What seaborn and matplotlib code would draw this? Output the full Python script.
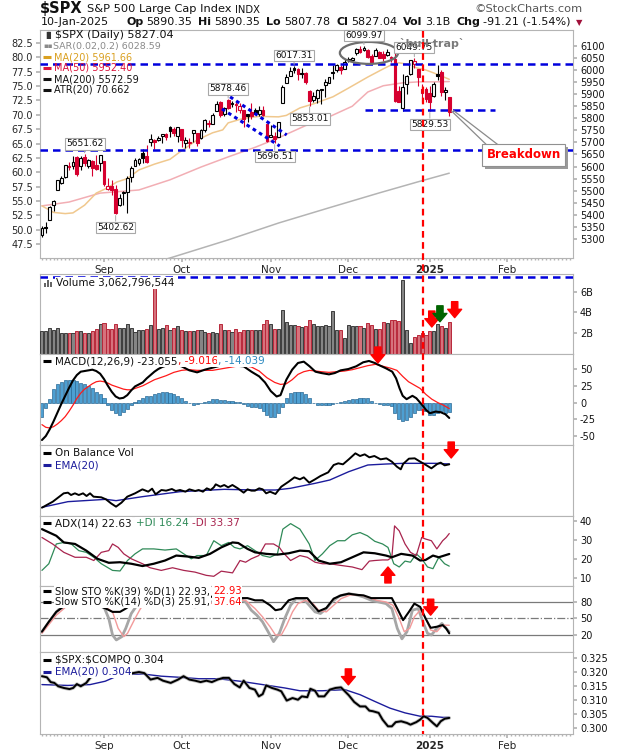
import numpy as np
import pandas as pd
import matplotlib
matplotlib.use('Agg')
import matplotlib.pyplot as plt
import seaborn as sns
from matplotlib.patches import Ellipse, Rectangle
from matplotlib.lines import Line2D
from matplotlib.transforms import IdentityTransform

sns.set_theme(style='white')
plt.rcParams['font.family'] = ['DejaVu Sans']

# ---------------- data ----------------
prev_close_start = 5319.0
opens = [5314.7, 5351.5, 5376.9, 5442.4, 5501.0, 5530.5, 5557.2, 5602.9, 5603.1, 5637.8, 5602.0, 5639.7, 5602.9, 5624.5, 5607.3, 5612.7,
         5623.9, 5506.7, 5520.1, 5507.3, 5442.1, 5490.5, 5496.4, 5557.5, 5603.3, 5615.2, 5655.5, 5641.7, 5702.6, 5709.0, 5711.9, 5727.0, 5733.6, 5762.2, 5755.4, 5726.5,
         5757.7, 5698.2, 5698.2, 5737.8, 5737.8, 5719.1, 5751.8, 5778.4, 5775.1, 5829.8, 5866.7, 5816.6, 5875.6, 5859.4, 5857.8, 5832.7, 5834.5, 5817.8, 5826.8, 5833.9, 5819.7, 5832.7, 5775.3,
         5723.2, 5725.2, 5722.4, 5864.0, 5947.2, 5976.8, 6008.9, 6003.6, 5985.8, 5989.6, 5912.8, 5874.2, 5882.5, 5917.1, 5937.3, 5944.4, 5992.3, 6000.0, 6014.1, 6004.0,
         6040.1, 6043.0, 6069.4, 6089.3, 6081.4, 6083.0, 6057.6, 6060.2, 6074.3, 6068.2, 6063.8, 6052.6, 6047.7, 5912.7, 5842.0, 5940.3, 5984.6, 6025.0, 6006.2, 5920.7, 5919.7,
         5903.3, 5891.1, 5982.8, 5993.3, 5910.7, 5890.35]
highs = [5351.9, 5371.2, 5436.5, 5463.2, 5546.2, 5561.9, 5608.3, 5620.5, 5643.2, 5643.2, 5641.8, 5651.62, 5631.2, 5627.0, 5646.9, 5648.4,
         5623.9, 5552.7, 5546.3, 5522.5, 5484.2, 5497.9, 5560.4, 5600.7, 5636.3, 5636.1, 5670.8, 5689.8, 5733.6, 5715.1, 5725.4, 5735.3, 5741.0, 5767.4, 5763.8, 5765.1,
         5757.7, 5722.4, 5718.8, 5753.3, 5739.3, 5757.6, 5796.8, 5795.0, 5822.1, 5871.4, 5870.4, 5846.5, 5878.46, 5872.2, 5866.9, 5863.0, 5834.8, 5817.8, 5862.8, 5842.9, 5850.9, 5850.9, 5775.3,
         5772.5, 5741.4, 5783.4, 5936.1, 5983.8, 6012.5, 6017.31, 6009.9, 6008.2, 5993.9, 5915.3, 5908.1, 5920.7, 5920.7, 5963.4, 5972.9, 6020.8, 6025.4, 6020.2, 6044.2,
         6053.6, 6052.1, 6089.8, 6099.7, 6099.97, 6088.5, 6065.4, 6092.6, 6079.7, 6078.6, 6085.2, 6057.7, 6070.7, 5935.5, 5982.1, 5978.3, 6040.1, 6049.75, 6006.2, 5940.8, 5929.7,
         5935.1, 5949.3, 6021.0, 6000.7, 5927.9, 5890.35]
lows = [5306.4, 5324.4, 5376.9, 5415.0, 5501.0, 5525.9, 5550.7, 5585.5, 5591.0, 5560.9, 5585.2, 5602.3, 5593.5, 5560.9, 5585.2, 5580.8,
        5521.2, 5503.4, 5480.1, 5402.62, 5434.5, 5441.7, 5407.0, 5535.5, 5601.6, 5604.5, 5614.1, 5615.1, 5686.4, 5674.5, 5704.6, 5698.0, 5712.1, 5721.0, 5727.3, 5703.5,
        5681.3, 5676.9, 5677.4, 5702.8, 5686.9, 5714.6, 5745.0, 5764.8, 5775.1, 5829.8, 5804.5, 5808.3, 5840.3, 5846.1, 5824.8, 5821.2, 5762.4, 5784.9, 5799.0, 5823.1, 5810.4, 5811.3, 5703.4,
        5723.2, 5696.51, 5722.1, 5864.0, 5947.2, 5976.8, 5986.7, 5960.1, 5965.9, 5942.3, 5853.01, 5865.9, 5862.0, 5860.8, 5888.8, 5944.4, 5963.9, 5992.3, 5984.9, 6004.0,
        6035.3, 6033.4, 6061.1, 6070.4, 6080.0, 6048.6, 6029.9, 6060.2, 6051.3, 6035.8, 6059.1, 6035.2, 5867.8, 5866.1, 5832.3, 5902.6, 5981.4, 6007.4, 5932.95, 5869.2, 5868.9,
        5829.53, 5888.7, 5960.0, 5890.7, 5874.8, 5807.78]
closes = [5344.2, 5344.4, 5434.4, 5455.2, 5543.2, 5554.3, 5608.3, 5597.1, 5620.9, 5570.6, 5634.6, 5616.8, 5625.8, 5592.2, 5591.9, 5648.4,
          5528.9, 5520.1, 5503.4, 5408.4, 5471.1, 5495.5, 5554.1, 5595.8, 5626.0, 5633.1, 5634.6, 5618.3, 5713.6, 5702.6, 5718.6, 5732.9, 5722.3, 5745.4, 5738.2, 5762.5,
          5708.8, 5709.5, 5699.9, 5751.1, 5695.9, 5751.1, 5792.0, 5780.1, 5815.0, 5859.9, 5815.3, 5842.5, 5841.5, 5864.7, 5854.0, 5851.2, 5797.4, 5809.9, 5808.1, 5823.5, 5832.9, 5813.7, 5705.5,
          5728.8, 5712.7, 5782.8, 5929.0, 5973.1, 5995.5, 6001.4, 5984.0, 5985.4, 5949.2, 5870.6, 5893.6, 5917.0, 5917.1, 5948.7, 5969.3, 5987.4, 6021.6, 5998.7, 6032.4,
          6047.2, 6049.9, 6086.5, 6075.1, 6090.3, 6052.9, 6034.9, 6084.2, 6051.3, 6051.1, 6074.1, 6050.6, 5872.2, 5867.1, 5930.9, 5974.1, 6040.0, 6037.6, 5970.8, 5906.9, 5881.6,
          5868.6, 5942.5, 5975.4, 5909.0, 5918.3, 5827.04]
volume_b = [2.2, 2.25, 2.55, 2.3, 2.55, 2.05, 2.0, 2.05, 1.98, 2.2, 2.2, 2.0, 2.0, 2.2, 2.4, 2.85,
            2.95, 2.45, 2.45, 2.85, 2.5, 2.5, 2.85, 2.5, 2.15, 2.35, 2.35, 2.45, 2.75, 6.4, 2.45, 2.55, 2.75, 2.35, 2.55, 2.65,
            2.3, 2.25, 2.25, 2.2, 2.3, 2.3, 2.15, 2.05, 2.15, 1.98, 2.85, 2.3, 2.35, 2.15, 2.4, 2.15, 2.3, 2.35, 2.3, 2.3, 2.3, 2.85, 3.3,
            2.85, 2.4, 2.4, 4.2, 3.1, 2.75, 2.75, 2.7, 2.6, 2.65, 3.3, 2.85, 2.7, 2.7, 2.8, 2.7, 4.1, 2.35, 2.3, 1.5,
            2.75, 2.7, 2.7, 2.7, 2.55, 2.95, 2.8, 2.4, 2.4, 3.05, 3.0, 3.3, 3.25, 3.2, 7.1, 2.35, 1.1, 1.6, 1.8, 2.0, 1.8,
            2.25, 2.2, 2.85, 2.65, 2.5, 3.06]

ma20 = [(0, 5437), (3, 5410), (6, 5405), (8, 5408), (11, 5440), (14, 5490), (16.8, 5511), (19.3, 5536), (22, 5550), (25, 5586),
        (29, 5610), (33, 5630), (35.6, 5661), (40, 5710), (44, 5740), (46.6, 5752), (48, 5781), (52, 5800), (56, 5808), (61, 5806),
        (63, 5812), (66.5, 5843), (70, 5860), (75, 5889), (79, 5925), (84, 5971), (88, 6005), (90, 6021), (92, 6030), (94, 6025),
        (96.6, 6009), (99, 6000), (101, 5988), (103, 5975), (105, 5961.66)]
ma50 = [(0, 5437), (7, 5453), (15, 5490), (25, 5503), (33, 5545), (41, 5598), (48, 5640), (55, 5680), (61, 5719), (68, 5770),
        (74, 5806), (80, 5850), (84, 5909), (88, 5935), (93, 5947), (97, 5951), (101, 5951), (105, 5952.4)]
ma200 = [(25, 5185), (33, 5221), (48, 5296), (61, 5366), (74, 5429), (87, 5491), (97, 5537), (105, 5572.59)]

macd_line = [(0, -56), (1, -50), (2, -40), (3, -28), (4, -15), (5, -2), (6, 10), (7, 22), (8, 33), (9, 41), (10, 46), (11, 47), (12, 48),
             (13, 49), (14, 47), (15, 43), (16, 35), (17, 25), (18, 16), (19, 9), (20, 6), (21, 7), (22, 11), (23, 18), (24, 24), (25, 27),
             (26, 30), (27, 36), (28, 41), (29, 46), (30, 50), (31, 53), (32, 55), (34, 57), (36, 54), (38, 48), (40, 45), (42, 49), (44, 52),
             (46, 55), (48, 55), (50, 55), (52, 54), (54, 46), (56, 39), (57.5, 30), (59, 17), (60.5, 9), (61.5, 11), (63, 34), (64.5, 49),
             (66, 59), (67.5, 61), (69, 54), (70.5, 46), (72, 44), (74, 42), (75.5, 44), (77, 48), (79, 50), (81, 54), (82.8, 60), (84.3, 62),
             (85.8, 59), (87.2, 55), (88.7, 51), (90.3, 46), (91.3, 36), (92.2, 21), (93, 10), (94, 5), (95.5, 10), (96.5, 6.5), (98, -3.5),
             (99, -11), (100, -16), (101.5, -13.5), (102.8, -14.5), (104, -17.5), (105, -23.055)]
macd_signal = [(0, -33), (1, -37), (2, -38), (3, -36), (4, -32), (5, -27), (6, -21), (7, -13), (8, -4), (9, 6), (10, 14), (11, 20), (12, 24),
               (13, 28), (14, 31), (15, 32), (16, 31), (17, 29), (18, 26), (19, 24), (20, 22), (21, 20), (22, 19), (23, 19), (24, 21), (25, 23),
               (26, 25), (27, 28), (28, 31), (29, 34), (30, 36), (31, 38), (32, 40), (34, 45), (36, 48), (38, 49), (40, 48), (42, 48), (44, 48),
               (46, 50), (48, 52), (50, 54), (52, 55), (54, 53), (56, 47), (58, 37), (60, 30), (61.5, 27), (63, 28), (64.5, 34), (66, 42),
               (67.5, 46), (69, 48), (70.5, 47), (72, 46), (74, 45), (76, 46), (78, 47), (80, 49), (82, 52), (84, 55), (86, 57), (88, 54),
               (90, 51), (91.5, 48), (93, 39), (94.5, 31), (96, 26), (97.5, 21), (99, 12), (100.5, 5), (102, 0), (103.5, -4), (105, -9.016)]
macd_hist = [-21, -8, 5, 20, 28, 31, 33, 34, 34, 32, 29, 27, 24, 21, 15, 12, 6, -3, -11, -16, -18, -14, -9, -4, 1, 4, 6, 9, 10, 12,
             14, 15, 15, 14, 12, 9, 6, 2, -1, -3, -2, 0, 1, 3, 5, 5, 4, 4, 3, 2, 1, 1, -2, -5, -6, -7, -8, -13, -18, -21,
             -22, -16, -6, 6, 14, 16, 16, 15, 12, 6, 0, -3, -4, -4, -3, -2, 0, 1, 2, 4, 5, 5, 6, 6, 6, 2, 0, -2, -3, -4,
             -5, -15, -24, -27, -26, -22, -16, -11, -11, -13, -18, -19, -16, -13, -15, -14.039]

obv = [(0, -3), (2.8, 15), (5.6, 40), (6.7, 42), (7.5, 35), (8.5, 40), (9.5, 35), (10.6, 40), (11.5, 32), (12.4, 40), (13.3, 30),
       (15.3, 28), (16.5, 22), (17.8, 10), (19.1, 0), (20.5, 12), (22, 30), (24, 40), (25.9, 52), (27.4, 45), (28.4, 54), (29.3, 37),
       (30.8, 50), (32, 48), (33.5, 53), (34.5, 47), (35.6, 50), (37, 45), (38, 52), (39.5, 47), (40.4, 50), (41.5, 45), (42.5, 55),
       (43.5, 50), (44.3, 58), (44.8, 67), (46, 60), (47, 65), (48, 58), (49.1, 65), (50.5, 55), (52, 42), (53, 52), (54, 48), (54.9, 48),
       (56, 55), (56.9, 52), (57.8, 40), (58.8, 45), (60.2, 38), (61.7, 60), (63.6, 75), (65.1, 88), (66.5, 82), (67.5, 88), (68.9, 72),
       (70.4, 82), (71.8, 92), (73.8, 103), (75.2, 125), (76.4, 130), (77.6, 127), (79.1, 142), (80.8, 160), (82, 152), (83.2, 157),
       (84.4, 148), (85.7, 152), (87.3, 142), (88.8, 145), (90.2, 135), (91.5, 120), (92.5, 112), (93.1, 128), (94.6, 144), (96.1, 145),
       (97.5, 135), (99, 125), (100.4, 115), (101.9, 128), (102.8, 132), (103.8, 124), (105, 127)]
obv_ema = [(0, -2), (6.7, 15), (16.5, 22), (19.1, 18), (25.9, 30), (35.6, 45), (47, 52), (54.9, 50), (60.2, 50), (64, 55), (70.4, 70),
           (74.2, 80), (79.1, 105), (84, 125), (88.8, 128), (93.1, 130), (97.5, 130), (101.5, 130), (105, 128)]

adx = [(0, 35.7), (3.7, 32.2), (5.64, 28.7), (8.53, 27.9), (11.43, 24.4), (14.33, 20.1), (17.23, 18), (20.13, 18.3), (23.03, 17.5),
       (25.93, 16.3), (28.83, 17.5), (31.73, 19.2), (34.63, 21.8), (37.53, 21.3), (40.43, 20.6), (43.33, 22.7), (46.23, 26.1),
       (49.13, 28.7), (50.6, 28.4), (53.0, 25.3), (54.93, 23.5), (57.8, 22.7), (60.7, 22.3), (63.6, 23), (66.5, 24.4), (68.9, 24.1),
       (71.3, 19.2), (74.2, 17.5), (77.1, 18.3), (80.0, 20.9), (82.9, 23.5), (85.8, 23), (88.7, 21.8), (90.2, 20.9), (92.6, 22.7),
       (95.5, 21.8), (97.5, 19.2), (98.9, 19.5), (100.8, 21.8), (102.3, 20.9), (105, 22.63)]
plus_di = [(0, 14), (1.77, 17.5), (3.7, 27.9), (5.64, 28.7), (7.57, 27.9), (9.5, 24.4), (11.43, 23.5), (13.37, 20.9), (15.3, 17.5),
           (18.2, 14), (20.13, 13.7), (22.06, 19.2), (24.0, 22.7), (25.93, 25.3), (28.83, 25.3), (31.73, 24.7), (34.63, 25.3),
           (36.56, 22.7), (38.5, 20.1), (39.95, 21.8), (42.36, 21.8), (44.3, 29.6), (46.23, 27), (48.16, 28.7), (49.6, 26.1),
           (51.06, 25.3), (53.0, 27), (54.93, 24.4), (56.86, 21.8), (58.8, 20.9), (60.7, 22.7), (62.1, 35.7), (64.1, 38.6),
           (66.5, 35.7), (68.9, 27.9), (70.4, 19.2), (72.3, 22.7), (74.2, 27), (76.2, 29.6), (78.1, 29.6), (80.0, 32.7), (82.0, 33.9),
           (83.9, 32.2), (85.8, 29.3), (87.8, 27.9), (89.2, 26.1), (90.7, 17.5), (92.1, 15.8), (93.6, 18.9), (95.0, 18.3), (96.5, 22.7),
           (97.9, 20.1), (99.4, 15.8), (100.8, 14.9), (102.3, 20.9), (103.8, 17.5), (105, 16.24)]
minus_di = [(0, 31.3), (2.74, 27.9), (5.64, 23.5), (8.53, 20.9), (11.43, 20.9), (13.37, 19.2), (15.3, 23.5), (17.23, 24.4), (18.2, 27.9),
            (19.65, 26.1), (21.1, 22.7), (23.03, 20.1), (25.93, 17.5), (27.86, 15.4), (30.76, 14), (33.66, 15.4), (36.56, 14),
            (39.46, 13.1), (42.36, 11.4), (44.3, 10.9), (46.23, 13.6), (49.13, 12.7), (51.06, 19.2), (52.5, 18.3), (53.96, 20.1),
            (55.9, 21.8), (57.6, 27.9), (58.6, 27.9), (59.7, 27.9), (61.2, 26.1), (62.1, 23.5), (64.1, 19.2), (66.5, 21.8), (68.4, 20.9),
            (70.4, 18.3), (72.3, 17.5), (74.2, 17.5), (77.1, 16.6), (80.0, 15.8), (82.5, 14.4), (84.4, 18.9), (85.8, 19.2), (87.8, 19.5),
            (89.2, 19.5), (90.2, 20.9), (90.9, 37.4), (92.1, 34.8), (93.6, 27.9), (95.0, 23.5), (96.5, 21.8), (97.9, 31.3), (98.9, 30.5),
            (100.4, 29.6), (101.8, 25.3), (103.3, 29.6), (104.2, 31.3), (105, 33.37)]

sto_k39 = [(0, 26), (1.77, 44), (3.7, 62), (5.64, 72), (8, 78), (11, 80), (13.5, 76), (16.5, 68), (18.2, 62), (20.13, 62), (21.6, 68),
           (24, 80), (26, 88), (28, 90), (30, 92), (33, 90), (36, 82), (38, 84), (40, 86), (42, 88), (44.3, 90), (47, 92), (51.06, 87),
           (53.0, 87), (54.93, 83), (56.86, 83), (58.8, 74), (60.2, 65), (61.7, 67), (63.6, 83), (65.5, 87), (68.4, 87), (69.9, 74),
           (71.3, 63), (73.3, 69), (75.2, 86), (77.1, 92), (79.1, 95), (81.0, 93), (82.9, 92), (84.9, 87), (87.8, 87), (90.2, 87),
           (91.6, 68), (93.1, 47), (94.6, 62), (96.0, 77), (97.5, 71), (98.9, 50), (100.2, 33), (101.8, 35), (103.3, 38), (104.2, 32),
           (105, 22.93)]
sto_k14 = [(0, 26), (1.77, 43), (3.7, 62), (5.64, 75), (8, 85), (11, 88), (13.37, 80), (15.8, 74), (17.23, 50), (18.2, 20), (19.17, 11),
           (20.6, 17), (21.6, 32), (23.03, 59), (24.5, 74), (26, 85), (28, 90), (30, 88), (32, 90), (34, 85), (36.56, 78), (37.53, 74),
           (39.46, 71), (42.36, 77), (45.3, 83), (47.2, 85), (51.06, 85), (52.5, 80), (53.96, 65), (55.4, 56), (56.86, 44), (58.3, 26),
           (59.7, 8), (61.2, 23), (62.6, 50), (64.1, 74), (65.5, 86), (67.5, 85), (68.9, 74), (70.4, 62), (71.8, 59), (73.3, 68),
           (74.7, 80), (76.7, 91), (79.1, 95), (81.0, 93), (82.9, 89), (84.9, 83), (86.8, 80), (88.7, 77), (90.2, 68), (91.6, 32),
           (92.8, 13), (94.1, 26), (95.5, 65), (97.0, 68), (98.2, 44), (99.4, 23), (100.4, 20), (101.8, 32), (103.1, 41), (104.2, 32),
           (105, 25.91)]
sto_d3 = [(0, 23), (3.7, 56), (6, 70), (9, 80), (12, 84), (15, 78), (18.2, 62), (19.65, 32), (21.1, 17), (22.06, 23), (24.0, 50),
          (25.4, 68), (27, 80), (30, 86), (34, 86), (38.5, 74), (41.4, 74), (47.2, 83), (52.5, 83), (54.93, 68), (56.86, 53), (58.8, 35),
          (60.2, 20), (61.7, 20), (63.1, 38), (64.6, 62), (66.0, 77), (67.9, 83), (69.9, 77), (71.3, 65), (73.3, 62), (75.2, 74),
          (77.1, 86), (79.6, 93), (82.0, 93), (83.9, 89), (86.3, 83), (88.7, 80), (90.5, 74), (92.1, 50), (93.4, 26), (94.8, 32),
          (96.0, 53), (97.5, 65), (98.9, 50), (100.2, 29), (101.8, 26), (103.3, 38), (105, 37.64)]

ratio = [(0, .3185), (1.28, .3181), (2.25, .3164), (3.2, .3161), (4.2, .3149), (5.64, .3143), (7.1, .3139), (8.05, .3143), (9.0, .3157),
         (10.0, .3149), (11.43, .3161), (12.4, .3179), (12.9, .3185), (15, .3195), (17, .3200), (19, .3210), (21.1, .3220),
         (22.06, .3193), (23.5, .3196), (25.0, .3200), (26.4, .3196), (28, .3173), (29.8, .3179), (31.2, .3169), (33.2, .3161),
         (35.1, .3173), (36.5, .3185), (38.0, .3173), (39.5, .3169), (40.9, .3164), (42.4, .3169), (43.8, .3164), (45.3, .3173),
         (46.7, .3179), (48.2, .3179), (49.6, .3157), (51, .3145), (52.0, .3169), (53.5, .3143), (54.9, .3137), (55.9, .3113),
         (56.9, .3121), (57.8, .3152), (59.3, .3143), (60.7, .3137), (61.7, .3131), (63.1, .3098), (64.6, .3107), (66.0, .3101),
         (67.0, .3113), (68.4, .3110), (69.2, .3140), (70.4, .3133), (71.3, .3113), (72.8, .3113), (74.2, .3137), (75.7, .3143),
         (77.1, .3145), (78.1, .3131), (79.1, .3117), (80.5, .3093), (82.0, .3077), (83.4, .3077), (84.4, .3062), (85.3, .3060),
         (86.8, .3054), (87.8, .3030), (89.2, .3006), (90.2, .3006), (91.2, .3021), (92.6, .3024), (94.1, .3018), (95.0, .3012),
         (96.5, .3021), (97.5, .3030), (98.4, .3042), (99.4, .3036), (100.8, .3018), (101.8, .3006), (102.8, .3024), (103.8, .3033),
         (105, .3036)]
ratio_ema = [(0, .3155), (6.7, .3152), (12.4, .3155), (16.3, .3167), (20.1, .3190), (25.9, .3193), (30.8, .3185), (35.6, .3181),
             (40.4, .3176), (45.3, .3176), (51.1, .3167), (56.9, .3155), (62.6, .3143), (66.5, .3133), (72.3, .3133), (78.1, .3137),
             (82.0, .3119), (85.8, .3095), (89.7, .3071), (93.6, .3054), (97.5, .3042), (100.4, .3042), (103.3, .3038), (105, .3038)]

price_ticks = list(range(5300, 6101, 50))
atr_ticks = [47.5, 50.0, 52.5, 55.0, 57.5, 60.0, 62.5, 65.0, 67.5, 70.0, 72.5, 75.0, 77.5, 80.0, 82.5]
vol_ticks = [2, 4, 6]
vol_labels = ['2B', '4B', '6B']
macd_ticks = [-50, -25, 0, 25, 50]
adx_ticks = [10, 20, 30, 40]
sto_ticks = [20, 50, 80]
ratio_ticks = [0.300, 0.305, 0.310, 0.315, 0.320, 0.325]

callout_idx = [11, 19, 48, 60, 65, 69, 83, 96, 100]
callout_text = ['5651.62', '5402.62', '5878.46', '5696.51', '6017.31', '5853.01', '6099.97', '6049.75', '5829.53']
callout_kind = ['high', 'low', 'high', 'low', 'high', 'low', 'high', 'high', 'low']

support_lines = [6025, 5670]
short_line = (5835, 83.2, 116.8)
channel_upper = [(48.5, 5889), (63.1, 5731)]
channel_lower = [(46.4, 5839), (61.3, 5685)]
top_ellipse = (84.3, 6071, 15, 91)
marker_day = 98.3
vol_line = 7.4

holidays = ['2024-09-02', '2024-11-28', '2024-12-25', '2025-01-01', '2025-01-09', '2025-01-20', '2025-02-17']

# ---------------- figure ----------------
W, H = 620, 750
fig = plt.figure(figsize=(W / 100, H / 100), dpi=100)
fig.patch.set_facecolor('white')
XLIM = (-0.5, 136.9)
SPINE = '#B4B4B4'
RED = '#D6002F'
BLUE = '#0000DD'


def rect(top, bottom, left=40, right=573):
    return [left / W, 1 - bottom / H, (right - left) / W, (bottom - top) / H]


def right_ticks(ax):
    ax.yaxis.tick_right()
    ax.tick_params(axis='y', which='both', length=3, color=SPINE, labelsize=7, pad=2,
                   labelcolor='#111111', left=False, right=True, labelleft=False, labelright=True)


def style(ax, ylim, ticks=None, labels=None):
    ax.set_xlim(*XLIM)
    ax.set_ylim(*ylim)
    ax.set_facecolor('white')
    ax.grid(False)
    for s in ax.spines.values():
        s.set_color(SPINE)
        s.set_linewidth(0.8)
    right_ticks(ax)
    ax.tick_params(axis='x', which='both', length=0, labelbottom=False, bottom=False)
    if ticks is not None:
        ax.set_yticks(ticks)
        ax.set_yticklabels(labels)
    else:
        ax.set_yticks([])
    ax.set_xlabel('')
    ax.set_ylabel('')


def line(ax, pairs, **kw):
    xs = [p[0] for p in pairs]
    ys = [p[1] for p in pairs]
    sns.lineplot(x=xs, y=ys, ax=ax, legend=False, estimator=None, **kw)


sessions = pd.bdate_range('2024-08-09', '2025-03-31')
sessions = sessions[~sessions.isin(pd.to_datetime(holidays))]
month_start = [i for i in range(1, len(sessions)) if sessions[i].month != sessions[i - 1].month and i < XLIM[1]]
month_lbl = ['2025' if sessions[i].month == 1 else sessions[i].strftime('%b') for i in month_start]


def date_axis(ax):
    ax.set_xticks(month_start)
    ax.set_xticklabels(month_lbl)
    ax.set_xticks(np.arange(0, int(XLIM[1]) + 1), minor=True)
    ax.tick_params(axis='x', which='major', length=3, color=SPINE, labelbottom=True, bottom=True, labelsize=7.5, pad=2)
    ax.tick_params(axis='x', which='minor', length=1.5, color=SPINE, bottom=True)
    for t in ax.get_xticklabels():
        if t.get_text() == '2025':
            t.set_fontweight('bold')


o = np.array(opens); h = np.array(highs); l = np.array(lows); c = np.array(closes)
n = len(c)
idx = np.arange(n)
prev = np.r_[prev_close_start, c[:-1]]
candle_col = np.where(c >= prev, 'black', RED)
hollow = c >= o

# ---- main price panel ----
ax = fig.add_axes(rect(30, 258))
style(ax, (5221, 6166), price_ticks, [str(t) for t in price_ticks])
date_axis(ax)
line(ax, ma200, color='#B4B4B4', lw=1.1)
line(ax, ma50, color='#F2AEB4', lw=1.1)
line(ax, ma20, color='#F0C88E', lw=1.1)
ax.vlines(idx, l, h, colors=candle_col, lw=0.8, zorder=3)
body_lo = np.minimum(o, c)
body_h = np.maximum(np.abs(c - o), 3)
ax.bar(idx, body_h, bottom=body_lo, width=0.72, color=np.where(hollow, 'white', candle_col),
       edgecolor=candle_col, lw=0.8, zorder=4)
for v in support_lines:
    ax.axhline(v, color=BLUE, ls=(0, (3, 2)), lw=1.8, zorder=5)
ax.hlines(short_line[0], short_line[1], short_line[2], color=BLUE, ls=(0, (3, 2)), lw=1.8, zorder=5)
for ch in (channel_upper, channel_lower):
    ax.plot([ch[0][0], ch[1][0]], [ch[0][1], ch[1][1]], color=BLUE, ls=(0, (1.2, 1.2)), lw=2.2, zorder=5)
ax.add_patch(Ellipse(top_ellipse[:2], top_ellipse[2], top_ellipse[3], fill=False, ec='#6E6E6E', lw=1.6, zorder=6))
for i, txt, kind in zip(callout_idx, callout_text, callout_kind):
    yv = highs[i] if kind == 'high' else lows[i]
    off = 7.5 if kind == 'high' else -9.5
    ax.annotate(txt, xy=(i, yv), xytext=(0, off), textcoords='offset points', ha='center', va='center',
                fontsize=6.5, color='#111111', zorder=8,
                bbox=dict(boxstyle='square,pad=0.15', fc='white', ec='#A8A8A8', lw=0.8),
                arrowprops=dict(arrowstyle='-', color='#A8A8A8', lw=0.7, shrinkA=0, shrinkB=1))
ax.text(100.5, 6108, '`bull trap`', ha='center', va='center', fontsize=8, fontweight='bold', color='#7A7A7A', zorder=9)
# Breakdown callout
ax.plot([105.6, 114.7], [5830, 5689], color='#8A8A8A', lw=0.9, zorder=7)
ax.plot([106.1, 118.0], [5832, 5685], color='#8A8A8A', lw=0.9, zorder=7)
brk = ax.text(124.2, 5648, 'Breakdown', ha='center', va='center', fontsize=8.5, fontweight='bold', color='#FF0000', zorder=10,
              bbox=dict(boxstyle='square,pad=0.35', fc='white', ec='#909090', lw=0.8))

axl = ax.twinx()
axl.set_ylim(45.05, 84.78)
axl.set_yticks(atr_ticks)
axl.set_yticklabels([f'{t:.1f}' for t in atr_ticks])
axl.yaxis.tick_left()
axl.tick_params(axis='y', length=3, color=SPINE, labelsize=7, pad=2, left=True, right=False, labelleft=True, labelright=False)
axl.grid(False)
for s in axl.spines.values():
    s.set_visible(False)
axl.set_ylabel('')
right_ticks(ax)

# ---- volume ----
axv = fig.add_axes(rect(274, 354))
style(axv, (0, 7.7), vol_ticks, vol_labels)
vcol = np.where(c >= prev, '#858585', '#D6727C')
vedge = np.where(c >= prev, '#3C3C3C', '#B8283A')
axv.bar(idx, volume_b, width=0.8, color=vcol, edgecolor=vedge, lw=0.7, zorder=3)
axv.axhline(vol_line, color=BLUE, ls=(0, (3, 2)), lw=1.8, zorder=5)

# ---- MACD ----
axm = fig.add_axes(rect(354, 445))
style(axm, (-63.4, 72.4), macd_ticks, [str(t) for t in macd_ticks])
axm.bar(idx, macd_hist, width=0.8, color='#4D9FD2', edgecolor='#2B6A96', lw=0.5, zorder=2)
line(axm, macd_signal, color='#FF1A1A', lw=0.9)
line(axm, macd_line, color='black', lw=1.5)

# ---- OBV ----
axo = fig.add_axes(rect(445, 516))
style(axo, (-28, 185))
line(axo, obv_ema, color='#1C1C9C', lw=1.0)
line(axo, obv, color='black', lw=1.4)

# ---- ADX ----
axa = fig.add_axes(rect(516, 586))
style(axa, (5.8, 42.6), adx_ticks, [str(t) for t in adx_ticks])
line(axa, plus_di, color='#2F8A58', lw=0.9)
line(axa, minus_di, color='#A8244E', lw=0.9)
line(axa, adx, color='black', lw=1.6)

# ---- Slow STO ----
axs = fig.add_axes(rect(586, 652))
style(axs, (-10.9, 109), sto_ticks, [str(t) for t in sto_ticks])
axs.axhline(80, color='#7A7A7A', lw=0.9, zorder=1)
axs.axhline(20, color='#7A7A7A', lw=0.9, zorder=1)
axs.axhline(50, color='#7A7A7A', lw=0.9, ls='-.', zorder=1)
line(axs, sto_k14, color='#A6A6A6', lw=2.0)
line(axs, sto_d3, color='#F29A9A', lw=1.0)
line(axs, sto_k39, color='black', lw=1.5)

# ---- ratio ----
axr = fig.add_axes(rect(652, 734))
style(axr, (0.29786, 0.32714), ratio_ticks, [f'{t:.3f}' for t in ratio_ticks])
date_axis(axr)
line(axr, ratio_ema, color='#1C1C9C', lw=1.0)
line(axr, ratio, color='#9A9A9A', lw=2.6, alpha=0.6)
line(axr, ratio, color='black', lw=1.4)

# ---- arrows ----
arrows = [(axv, 100.5, 2.6, 'down', '#FF0000'), (axv, 102.6, 3.1, 'down', '#006400'), (axv, 106.4, 3.5, 'down', '#FF0000'),
          (axm, 86.6, 59, 'down', '#FF0000'), (axo, 105.5, 146, 'down', '#FF0000'), (axa, 89.2, 15.8, 'up', '#FF0000'),
          (axs, 100.2, 56, 'down', '#FF0000'), (axr, 79.0, 0.3154, 'down', '#FF0000')]
for a_ax, xi, yv, d, col in arrows:
    dy = 11.5 if d == 'down' else -11.5
    a_ax.annotate('', xy=(xi, yv), xytext=(0, dy), textcoords='offset points', annotation_clip=False, zorder=15,
                  arrowprops=dict(arrowstyle='simple,head_length=0.6,head_width=1.0,tail_width=0.45',
                                  fc=col, ec=col, mutation_scale=10, shrinkA=0, shrinkB=0))

# ---- red vertical marker across panels ----
xd = ax.transData.transform((marker_day, 6000))[0]
xf = xd / W
fig.add_artist(Line2D([xf, xf], [1 - 31 / H, 1 - 734 / H], color='#FF0000', lw=1.6, ls=(0, (3, 2)), zorder=30))

# ---- text helpers ----
renderer = fig.canvas.get_renderer()


def seq(x_px, y_px, pieces, size, align='left', bbox=None):
    ts, ws = [], []
    for s, col, wt, gap in pieces:
        t = fig.text(0, 1 - y_px / H, s, color=col, fontsize=size, fontweight=wt, va='center', ha='left',
                     bbox=bbox, zorder=20)
        ws.append(t.get_window_extent(renderer=renderer).width + gap)
        ts.append(t)
    x = x_px - sum(ws) if align == 'right' else x_px
    for t, w in zip(ts, ws):
        t.set_x(x / W)
        x += w
    return x


def mark(x_px, y_px, col, lw=2.2):
    fig.add_artist(Line2D([x_px / W, (x_px + 8) / W], [1 - y_px / H, 1 - y_px / H], color=col, lw=lw, zorder=21,
                          solid_capstyle='butt'))


WB = dict(fc='white', ec='none', pad=0.6)

# header
xe = seq(40, 9, [('$SPX', '#111111', 'bold', 4)], 10.5)
xe = seq(xe, 9.5, [('S&P 500 Large Cap Index', '#111111', 'normal', 4)], 8.2)
seq(xe, 10, [('INDX', '#111111', 'normal', 0)], 7.2)
fig.text(583 / W, 1 - 9 / H, '\u00a9StockCharts.com', fontsize=8.2, va='center', ha='right', color='#555555')
fig.text(41 / W, 1 - 22 / H, '10-Jan-2025', fontsize=8, va='center', ha='left', color='#111111')
seq(573, 22, [('Op', '#111111', 'bold', 3), ('5890.35', '#111111', 'normal', 6), ('Hi', '#111111', 'bold', 3),
              ('5890.35', '#111111', 'normal', 6), ('Lo', '#111111', 'bold', 3), ('5807.78', '#111111', 'normal', 6),
              ('Cl', '#111111', 'bold', 3), ('5827.04', '#111111', 'normal', 6), ('Vol', '#111111', 'bold', 3),
              ('3.1B', '#111111', 'normal', 6), ('Chg', '#111111', 'bold', 3), ('-91.21 (-1.54%)', '#111111', 'normal', 2)],
    8, align='right')
fig.text(576 / W, 1 - 23 / H, '\u25bc', fontsize=6, va='center', ha='left', color='#A0103A')

# main legend
fig.text(55 / W, 1 - 35 / H, '$SPX (Daily) 5827.04', fontsize=8, va='center', ha='left', color='#111111', zorder=20)
fig.text(43 / W, 1 - 35 / H, '\u2590\u258c', fontsize=5, va='center', ha='left', color='#333333', zorder=20)
fig.text(43 / W, 1 - 46 / H, '\u25aa\u25aa', fontsize=5, va='center', ha='left', color='#8A8A8A', zorder=20)
fig.text(53 / W, 1 - 46 / H, 'SAR(0.02,0.2) 6028.59', fontsize=6.8, va='center', ha='left', color='#8A8A8A', zorder=20)
legend_rows = [('MA(20) 5961.66', '#DAA020', 57), ('MA(50) 5952.40', '#DC143C', 68),
               ('MA(200) 5572.59', '#111111', 79), ('ATR(20) 70.662', '#111111', 90)]
for s, col, yy in legend_rows:
    mark(43, yy, col)
    fig.text(54 / W, 1 - yy / H, s, fontsize=7, va='center', ha='left', color=col, zorder=20)

# panel legends (volume icon drawn as three tiny bars)
for bx, bh in ((44, 4), (47, 7), (50, 5)):
    fig.add_artist(Rectangle((bx / W, 1 - 287 / H), 2 / W, bh / H, transform=fig.transFigure,
                             fc='#666666', ec='none', zorder=21))
seq(56, 283, [('Volume 3,062,796,544', '#111111', 'normal', 0)], 7.5, bbox=WB)
mark(43, 361, 'black')
seq(55, 361, [('MACD(12,26,9) -23.055', '#111111', 'normal', 0), (', -9.016', '#FF0000', 'normal', 0),
              (', -14.039', '#2E8BC0', 'normal', 0)], 7.5, bbox=WB)
mark(43, 453, 'black')
seq(55, 453, [('On Balance Vol', '#111111', 'normal', 0)], 7.5, bbox=WB)
mark(43, 465, '#1C1C9C')
seq(55, 465, [('EMA(20)', '#1C1C9C', 'normal', 0)], 7.5, bbox=WB)
mark(43, 523, 'black')
seq(55, 523, [('ADX(14) 22.63', '#111111', 'normal', 4), ('+DI 16.24', '#2F8A58', 'normal', 4),
              ('-DI 33.37', '#A8244E', 'normal', 0)], 7.5, bbox=WB)
mark(43, 591, 'black')
seq(55, 591, [('Slow STO %K(39) %D(1) 22.93,', '#111111', 'normal', 3), ('22.93', '#FF0000', 'normal', 0)], 7.2, bbox=WB)
mark(43, 602, 'black')
seq(55, 602, [('Slow STO %K(14) %D(3) 25.91,', '#111111', 'normal', 3), ('37.64', '#FF0000', 'normal', 0)], 7.2, bbox=WB)
mark(43, 660, 'black')
seq(55, 660, [(r'\$SPX:\$COMPQ 0.304', '#111111', 'normal', 0)], 7.5, bbox=WB)
mark(43, 672, '#1C1C9C')
seq(55, 672, [('EMA(20) 0.304', '#1C1C9C', 'normal', 0)], 7.5, bbox=WB)

# shadow behind the Breakdown box (drawn as a patch, offset a few pixels)
fig.canvas.draw()
bb = brk.get_bbox_patch().get_window_extent(renderer=fig.canvas.get_renderer())
ax.add_patch(Rectangle((bb.x0 + 3, bb.y0 - 3), bb.width, bb.height, transform=IdentityTransform(),
                       fc='#9A9A9A', ec='none', zorder=9, clip_on=False))

fig.savefig('out.png', dpi=100, facecolor='white')
